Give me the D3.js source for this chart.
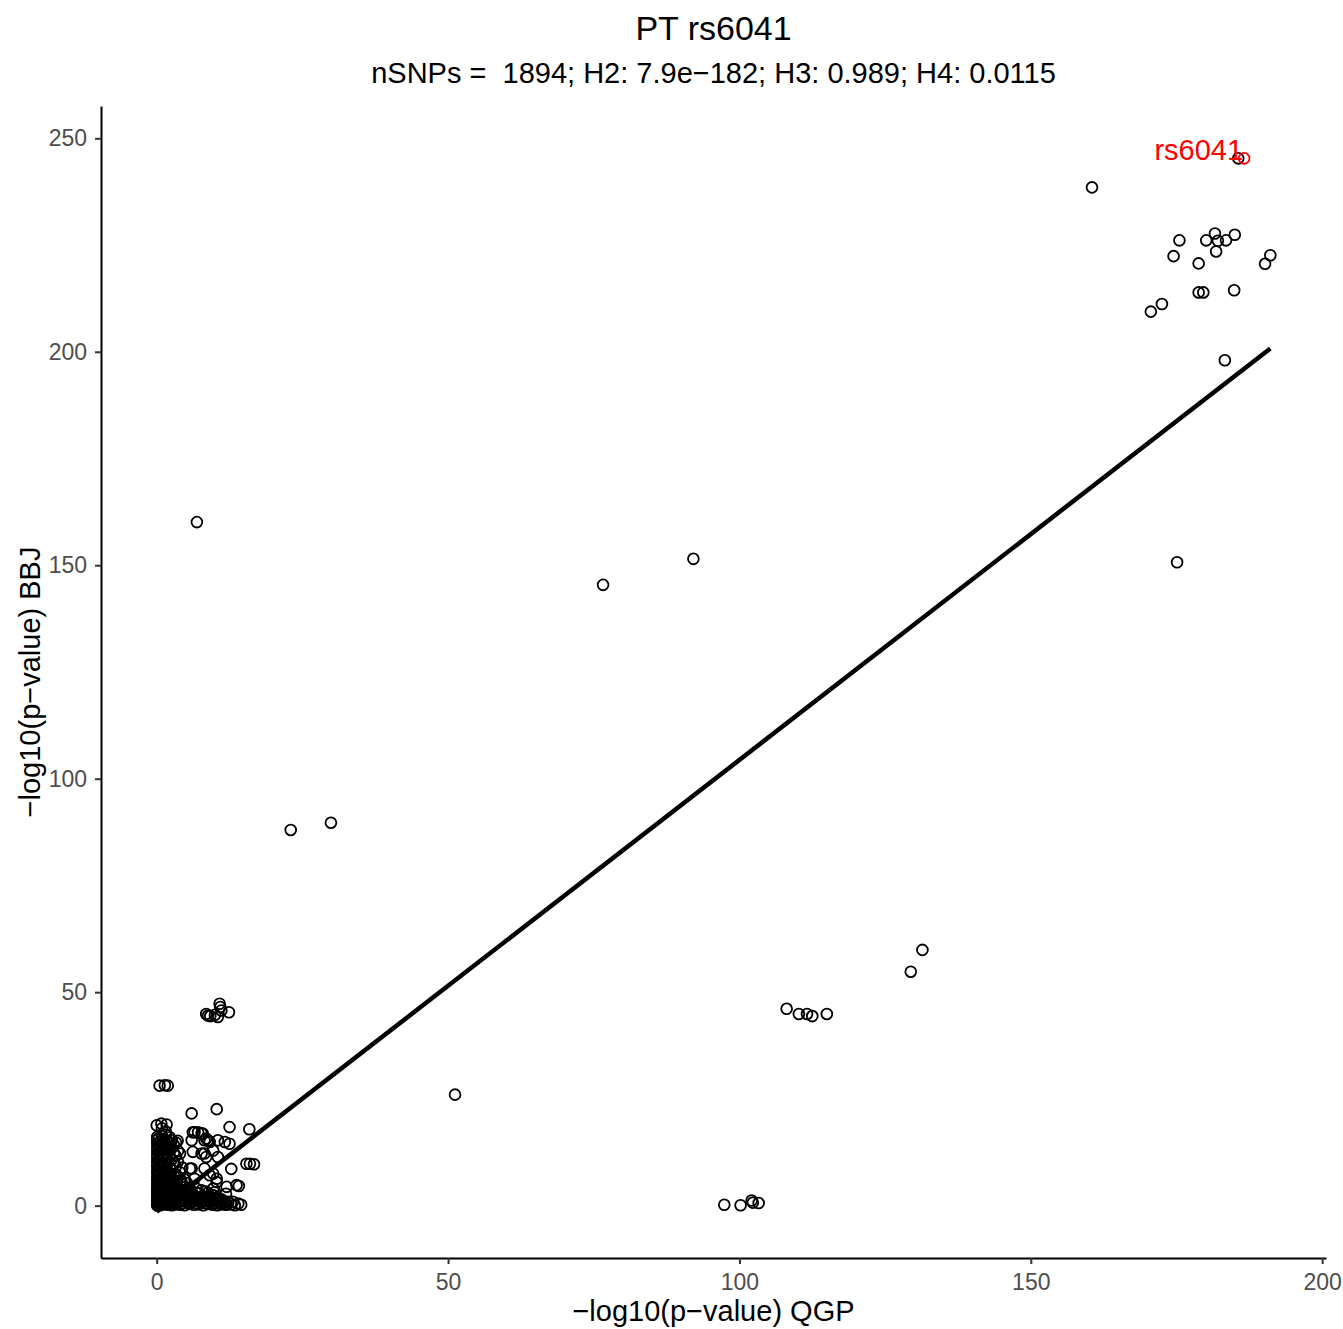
<!DOCTYPE html>
<html>
<head>
<meta charset="utf-8">
<script src="https://cdn.jsdelivr.net/npm/d3@7"></script>
<style>
  body { margin: 0; background: #fff; }
  text { font-family: "Liberation Sans", Arial, sans-serif; }
</style>
</head>
<body>
<div id="canvas"></div>
<script>
// chart text
var titleText = "PT rs6041";
var subtitleText = "nSNPs =  1894; H2: 7.9e\u2212182; H3: 0.989; H4: 0.0115";
var xTitle = "\u2212log10(p\u2212value) QGP";
var yTitle = "\u2212log10(p\u2212value) BBJ";

var xTicks = [0, 50, 100, 150, 200];
var yTicks = [0, 50, 100, 150, 200, 250];

// lead snp [QGP, BBJ]
var leadName = "rs6041";
var leadSnp = [186.6, 245.3];

// fitted line (lm)
var fitIntercept = -1.4;
var fitSlope = 1.058;

// top right group
var topGroup = [
	[185.6, 245.3], [160.5, 238.5], [175.5, 226.1], [181.6, 227.7], [180.1, 226.1],
	[182.1, 226.0], [183.5, 226.1], [185.0, 227.4], [174.5, 222.4], [181.8, 223.5],
	[178.8, 220.7], [191.1, 222.6], [190.2, 220.6], [178.8, 213.9], [179.6, 213.9],
	[184.9, 214.4], [172.5, 211.2], [170.6, 209.4], [183.3, 198.0], [175.1, 150.7]
];

// scattered points in the middle
var midGroup = [
	[6.9, 160.1], [23.0, 88.0], [29.9, 89.7], [76.6, 145.4], [92.1, 151.5],
	[51.2, 26.0], [131.4, 59.9], [129.4, 54.8], [108.1, 46.1], [110.2, 44.9],
	[111.6, 44.9], [112.5, 44.4], [115.0, 44.9], [97.4, 0.2], [100.2, 0.1],
	[102.1, 1.2], [102.3, 0.7], [103.3, 0.6]
];

// low group near 45 and 28
var lowGroup = [
	[8.8, 44.5], [10.8, 47.3], [12.4, 45.3], [10.0, 44.7], [11.1, 45.7],
	[10.5, 44.2], [8.5, 44.9], [9.2, 44.4], [10.9, 46.5],
	[0.5, 28.1], [1.4, 28.2], [1.9, 28.1]
];

// dense group near the origin
var denseGroup = [
	[6.0, 21.6], [10.3, 22.6], [12.5, 18.4], [15.9, 17.9], [0.0, 18.8], [0.8, 19.2], [1.7, 19.0],
	[6.5, 17.2], [7.1, 17.2], [7.7, 16.9], [8.5, 15.7], [9.1, 14.9], [10.5, 15.3], [9.7, 12.9],
	[8.2, 12.2], [8.5, 11.4], [12.8, 8.6], [15.4, 9.8], [16.0, 9.8], [16.7, 9.7], [12.5, 14.5],
	[11.7, 14.9], [10.5, 11.4], [6.2, 12.6], [5.7, 8.7], [6.5, 6.3], [9.1, 7.1], [10.3, 6.3],
	[9.7, 4.0], [12.0, 4.4], [13.7, 4.8], [14.1, 4.6], [11.9, 2.8], [11.7, 0.3], [12.8, 0.3],
	[13.4, 0.1], [12.3, 0.9], [13.1, 0.9], [9.7, 7.5], [8.2, 8.7], [10.3, 5.5], [6.0, 15.3],
	[8.2, 15.3], [4.0, 12.2], [7.7, 12.2], [6.0, 8.7], [4.2, 5.9], [5.7, 4.0], [6.8, 4.0],
	[7.7, 3.6], [6.2, 17.2], [7.9, 16.9], [8.8, 15.3],
	[0.1, 0.0], [0.1, 0.2], [0.1, 0.5], [0.1, 0.8], [0.1, 1.2], [0.1, 1.6], [0.1, 2.1],
	[0.1, 2.6], [0.1, 3.2], [0.1, 3.8], [0.1, 4.5], [0.1, 5.2], [0.1, 6.0], [0.1, 6.8],
	[0.1, 7.6], [0.1, 8.4], [0.1, 9.3], [0.1, 10.2], [0.1, 11.1], [0.1, 12.0], [0.1, 12.9],
	[0.1, 13.8], [0.1, 14.6], [0.1, 15.4], [0.1, 16.1],
	[0.35, 0.4], [0.35, 1.5], [0.35, 2.8], [0.35, 4.2], [0.35, 5.7], [0.35, 7.3], [0.35, 9.0],
	[0.35, 10.7], [0.35, 12.5], [0.35, 14.2], [0.35, 15.8],
	[0.6, 0.1], [0.6, 0.9], [0.6, 1.8], [0.6, 2.9], [0.6, 4.1], [0.6, 5.5], [0.6, 7.1],
	[0.6, 8.8], [0.6, 10.5], [0.6, 12.3], [0.6, 13.9], [0.6, 15.0],
	[0.9, 0.6], [0.9, 2.3], [0.9, 3.6], [0.9, 6.3], [0.9, 8.1], [0.9, 9.8], [0.9, 11.7],
	[0.9, 13.4], [0.9, 16.3], [0.9, 18.1],
	[1.2, 0.3], [1.2, 1.4], [1.2, 2.5], [1.2, 3.7], [1.2, 5.0], [1.2, 6.4], [1.2, 8.0],
	[1.2, 9.6], [1.2, 11.5], [1.2, 13.2], [1.2, 14.7], [1.2, 15.6],
	[1.55, 0.7], [1.55, 1.9], [1.55, 4.3], [1.55, 5.7], [1.55, 7.1], [1.55, 8.8], [1.55, 10.6],
	[1.55, 12.4], [1.55, 14.0], [1.55, 16.6], [1.55, 17.4],
	[1.9, 0.2], [1.9, 1.1], [1.9, 2.2], [1.9, 3.4], [1.9, 4.8], [1.9, 6.2], [1.9, 7.7],
	[1.9, 9.9], [1.9, 12.1], [1.9, 14.0], [1.9, 15.2],
	[2.25, 0.5], [2.25, 1.6], [2.25, 2.8], [2.25, 4.1], [2.25, 5.4], [2.25, 7.0], [2.25, 9.0],
	[2.25, 11.2], [2.25, 13.1], [2.25, 14.6], [2.25, 16.0],
	[2.6, 0.1], [2.6, 0.9], [2.6, 2.0], [2.6, 3.3], [2.6, 4.6], [2.6, 6.0], [2.6, 8.3],
	[2.6, 10.8], [2.6, 13.5], [2.6, 15.3],
	[2.95, 0.6], [2.95, 1.8], [2.95, 3.9], [2.95, 5.3], [2.95, 7.0], [2.95, 9.9], [2.95, 12.4],
	[2.95, 14.2],
	[3.3, 0.3], [3.3, 1.3], [3.3, 2.7], [3.3, 4.2], [3.3, 5.9], [3.3, 7.4], [3.3, 9.2],
	[3.3, 11.6], [3.3, 14.8], [3.6, 15.2],
	[3.65, 0.8], [3.65, 2.0], [3.65, 3.3], [3.65, 6.6], [3.65, 10.3], [3.65, 12.8],
	[4.0, 0.2], [4.0, 1.0], [4.0, 2.3], [4.0, 3.9], [4.0, 5.6], [4.0, 7.8],
	[4.4, 0.6], [4.4, 1.7], [4.4, 3.2], [4.4, 5.0], [4.4, 8.9],
	[4.8, 0.1], [4.8, 1.2], [4.8, 2.6], [4.8, 4.3], [4.8, 6.1],
	[5.2, 0.8], [5.2, 2.0], [5.2, 3.6], [5.2, 5.3],
	[5.6, 0.4], [5.6, 1.7], [5.6, 3.2],
	[6.0, 0.9], [6.0, 2.1], [6.0, 3.3],
	[6.4, 0.2], [6.4, 1.1], [6.4, 2.4],
	[6.8, 0.6], [6.8, 1.9], [6.8, 3.0],
	[7.2, 0.3], [7.2, 1.5], [7.2, 2.9],
	[7.6, 0.7], [7.6, 2.0],
	[8.0, 0.1], [8.0, 1.0], [8.0, 2.2],
	[8.4, 0.6], [8.4, 1.8], [8.4, 3.3],
	[8.8, 0.4], [8.8, 1.6], [8.8, 3.0],
	[9.2, 0.8], [9.2, 2.0],
	[9.6, 0.2], [9.6, 1.2], [9.6, 2.5],
	[10.0, 0.6], [10.0, 1.7], [10.0, 3.2],
	[10.4, 0.1], [10.4, 0.9], [10.4, 2.0],
	[10.8, 0.5], [10.8, 1.6],
	[11.2, 0.3], [11.2, 1.4], [11.6, 0.9], [12.0, 0.2], [14.5, 0.2], [14.0, 0.5]
];

var width = 1343, height = 1329;
var margin = { top: 106, right: 17, bottom: 71, left: 101 };

var svg = d3.select('#canvas').append('svg')
	.attr('width', width)
	.attr('height', height);

var allPoints = topGroup.concat(midGroup, lowGroup, denseGroup, [leadSnp]);

// ggplot style 5% expansion
var xExt = d3.extent(allPoints, function (d) { return d[0]; });
var yExt = d3.extent(allPoints, function (d) { return d[1]; });
var xPad = (xExt[1] - xExt[0]) * 0.05, yPad = (yExt[1] - yExt[0]) * 0.05;

var x = d3.scaleLinear()
	.domain([xExt[0] - xPad, xExt[1] + xPad])
	.range([margin.left, width - margin.right]);
var y = d3.scaleLinear()
	.domain([yExt[0] - yPad, yExt[1] + yPad])
	.range([height - margin.bottom, margin.top]);

// axes
var xAxis = svg.append('g')
	.attr('transform', 'translate(0,' + (height - margin.bottom) + ')')
	.call(d3.axisBottom(x).tickValues(xTicks).tickSize(6).tickPadding(10).tickSizeOuter(0));
var yAxis = svg.append('g')
	.attr('transform', 'translate(' + margin.left + ',0)')
	.call(d3.axisLeft(y).tickValues(yTicks).tickSize(6).tickPadding(8).tickSizeOuter(0));

[xAxis, yAxis].forEach(function (ax) {
	ax.select('.domain').attr('stroke', '#000').attr('stroke-width', 2);
	ax.selectAll('.tick line').attr('stroke', '#333').attr('stroke-width', 2);
	ax.selectAll('.tick text')
		.attr('fill', '#4D4D4D')
		.style('font-size', '23px')
		.style('font-family', '"Liberation Sans", Arial, sans-serif');
});

// points
var pts = topGroup.concat(midGroup, lowGroup, denseGroup);
svg.append('g').selectAll('circle').data(pts)
	.enter().append('circle')
	.attr('cx', function (d) { return x(d[0]); })
	.attr('cy', function (d) { return y(d[1]); })
	.attr('r', 5.4)
	.attr('fill', 'none')
	.attr('stroke', '#000')
	.attr('stroke-width', 1.8);

// fitted line over data range
var fitX = [xExt[0], d3.max(pts, function (d) { return d[0]; })];
svg.append('line')
	.attr('x1', x(fitX[0]))
	.attr('y1', y(fitIntercept + fitSlope * fitX[0]))
	.attr('x2', x(fitX[1]))
	.attr('y2', y(fitIntercept + fitSlope * fitX[1]))
	.attr('stroke', '#000')
	.attr('stroke-width', 4.5);

// lead snp
svg.append('circle')
	.attr('cx', x(leadSnp[0]))
	.attr('cy', y(leadSnp[1]))
	.attr('r', 5.4)
	.attr('fill', 'none')
	.attr('stroke', 'red')
	.attr('stroke-width', 1.8);
svg.append('text')
	.attr('x', x(leadSnp[0]) - 1)
	.attr('y', y(leadSnp[1]) + 2)
	.attr('text-anchor', 'end')
	.attr('fill', 'red')
	.style('font-size', '29px')
	.text(leadName);

// titles
var cx = (margin.left + width - margin.right) / 2;
svg.append('text')
	.attr('x', cx).attr('y', 40)
	.attr('text-anchor', 'middle')
	.style('font-size', '34px')
	.text(titleText);
svg.append('text')
	.attr('x', cx).attr('y', 83)
	.attr('text-anchor', 'middle')
	.style('font-size', '29px')
	.style('white-space', 'pre')
	.text(subtitleText);
svg.append('text')
	.attr('x', cx).attr('y', 1321)
	.attr('text-anchor', 'middle')
	.style('font-size', '29px')
	.text(xTitle);
svg.append('text')
	.attr('transform', 'translate(40,' + ((margin.top + height - margin.bottom) / 2) + ') rotate(-90)')
	.attr('text-anchor', 'middle')
	.style('font-size', '29px')
	.text(yTitle);
</script>
</body>
</html>
